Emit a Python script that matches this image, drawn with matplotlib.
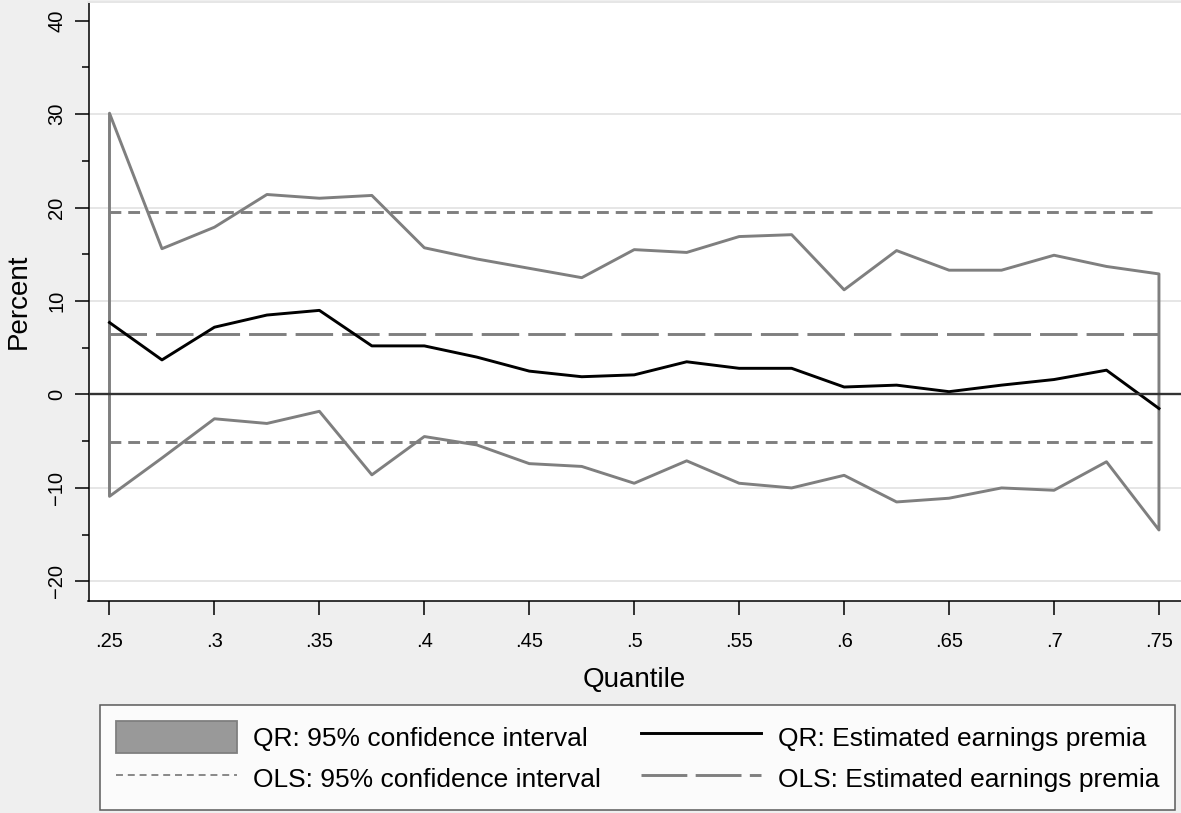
import numpy as np
import matplotlib
matplotlib.use("Agg")
import matplotlib.pyplot as plt
from matplotlib.lines import Line2D
from matplotlib.patches import Patch

plt.rcParams['font.family'] = ['Liberation Sans', 'DejaVu Sans']
plt.rcParams['lines.scale_dashes'] = False

# Quantile regression estimates (percent) by quantile
quantiles = [0.25, 0.275, 0.30, 0.325, 0.35, 0.375, 0.40, 0.425, 0.45, 0.475, 0.50,
             0.525, 0.55, 0.575, 0.60, 0.625, 0.65, 0.675, 0.70, 0.725, 0.75]
qr_est = [7.7, 3.7, 7.2, 8.5, 9.0, 5.2, 5.2, 4.0, 2.5, 1.9, 2.1,
          3.5, 2.8, 2.8, 0.8, 1.0, 0.3, 1.0, 1.6, 2.6, -1.5]
qr_upper = [30.1, 15.6, 17.9, 21.4, 21.0, 21.3, 15.7, 14.5, 13.5, 12.5, 15.5,
            15.2, 16.9, 17.1, 11.2, 15.4, 13.3, 13.3, 14.9, 13.7, 12.9]
qr_lower = [-10.9, -6.8, -2.6, -3.1, -1.8, -8.6, -4.5, -5.4, -7.4, -7.7, -9.5,
            -7.1, -9.5, -10.0, -8.65, -11.5, -11.1, -10.0, -10.25, -7.2, -14.5]

# OLS estimate and its confidence bounds (constant across quantiles)
ols_est = 6.45
ols_lower = -5.1
ols_upper = 19.5

xtick_vals = [0.25, 0.30, 0.35, 0.40, 0.45, 0.50, 0.55, 0.60, 0.65, 0.70, 0.75]
xtick_labels = ['.25', '.3', '.35', '.4', '.45', '.5', '.55', '.6', '.65', '.7', '.75']
ytick_major = [-20, -10, 0, 10, 20, 30, 40]
ytick_minor = [-15, -5, 5, 15, 25, 35]
grid_levels = [-20, -10, 10, 20, 30]

W, H = 1181, 813
bg = '#efefef'
gray = '#7f7f7f'
lw = 2.1

fig = plt.figure(figsize=(W / 100, H / 100), dpi=100, facecolor=bg)
ax = fig.add_axes([88.5 / W, 1 - 601 / H, 1 - 88.5 / W, (601 - 2) / H])
ax.set_facecolor('white')

ax.set_xlim(0.2400, 0.7605)
ax.set_ylim(-22.1, 42.0)

for g in grid_levels:
    ax.axhline(g, color='#e6e6e6', lw=1.4, zorder=0)

x = np.array(quantiles)
# QR confidence band drawn as an outlined area
ax.fill_between(x, qr_lower, qr_upper, facecolor='none', edgecolor=gray,
                lw=lw, zorder=2)
# OLS bounds and estimate
ax.plot([x[0], x[-1]], [ols_upper, ols_upper], color=gray, lw=lw,
        dashes=(8.5, 5.0), zorder=2)
ax.plot([x[0], x[-1]], [ols_lower, ols_lower], color=gray, lw=lw,
        dashes=(8.5, 5.0), zorder=2)
ax.plot([x[0], x[-1]], [ols_est, ols_est], color=gray, lw=lw,
        dashes=(27, 6.5), zorder=2)
# QR point estimates
ax.plot(x, qr_est, color='black', lw=lw, zorder=3)
# Reference line at zero
ax.axhline(0, color='#333333', lw=1.7, zorder=4)

ax.spines['right'].set_visible(False)
ax.spines['top'].set_color('#e6e6e6')
ax.spines['top'].set_linewidth(1.4)
for s in ['left', 'bottom']:
    ax.spines[s].set_color('black')
    ax.spines[s].set_linewidth(1.1)

ax.set_xticks(xtick_vals)
ax.set_xticklabels(xtick_labels)
ax.set_yticks(ytick_major)
ax.set_yticks(ytick_minor, minor=True)
ax.tick_params(axis='both', which='major', length=10, width=1.1, color='black',
               labelsize=14.5)
ax.tick_params(axis='y', which='minor', length=5, width=1.1, color='black')
ax.tick_params(axis='x', pad=12)
ax.tick_params(axis='y', pad=6)
for lab in ax.get_yticklabels():
    lab.set_rotation(90)
    lab.set_va('center')

ax.set_xlabel('Quantile', fontsize=20, labelpad=12)
ax.set_ylabel('Percent', fontsize=20, labelpad=11)

handles = [
    Patch(facecolor='#999999', edgecolor=gray, lw=1.3),
    Line2D([], [], color='black', lw=lw),
    Line2D([], [], color=gray, lw=1.3, dashes=(5, 3.5)),
    Line2D([], [], color=gray, lw=lw, dashes=(33, 6)),
]
labels = ['QR: 95% confidence interval', 'QR: Estimated earnings premia',
          'OLS: 95% confidence interval', 'OLS: Estimated earnings premia']
# legend entries are filled row by row across two columns
order = [0, 2, 1, 3]
leg = fig.legend([handles[i] for i in order], [labels[i] for i in order],
                 ncol=2, loc='upper left',
                 bbox_to_anchor=(100 / W, 1 - 705 / H),
                 bbox_transform=fig.transFigure,
                 fontsize=19, frameon=True, fancybox=False,
                 handlelength=4.58, handleheight=1.5, handletextpad=0.62,
                 columnspacing=1.5, labelspacing=0.35, borderpad=0.6,
                 borderaxespad=0)
leg.get_frame().set_edgecolor('#333333')
leg.get_frame().set_linewidth(1.1)
leg.get_frame().set_facecolor('white')

fig.savefig('out.png', dpi=100, facecolor=bg)
